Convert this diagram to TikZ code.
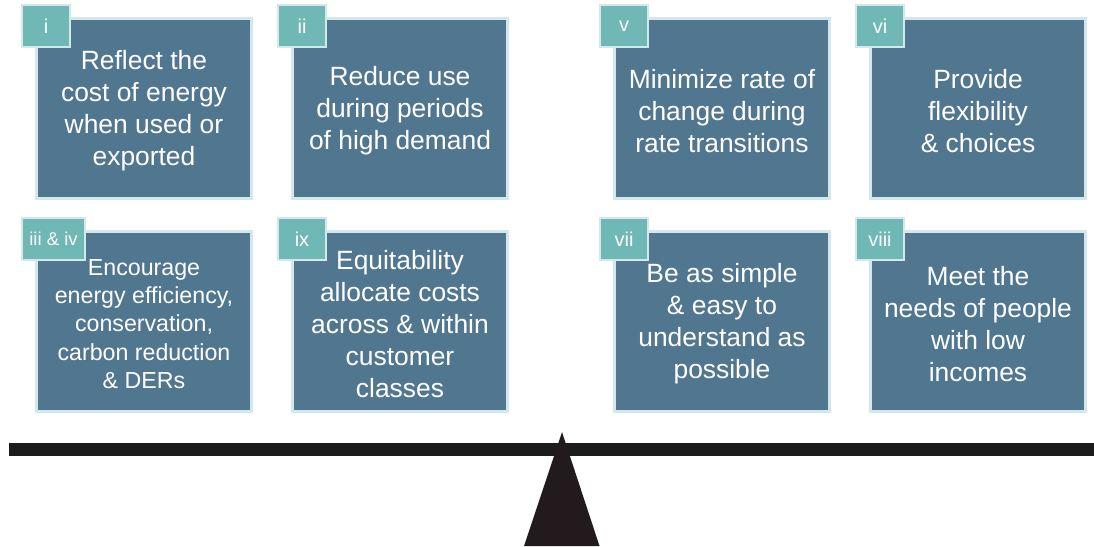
\documentclass[tikz,border=0pt]{standalone}
\usepackage{fontspec}
\setmainfont{Liberation Sans}
\definecolor{boxfill}{HTML}{50778F}
\definecolor{boxedge}{HTML}{D3E8EA}
\definecolor{tagfill}{HTML}{6FB8B6}
\definecolor{beamcol}{HTML}{1C1C1C}
\definecolor{pivotcol}{HTML}{231A1D}
\tikzset{
  bigbox/.style={rectangle, fill=boxfill, draw=boxedge, line width=3pt,
    minimum width=215pt, minimum height=180pt, inner sep=0pt},
  boxtext/.style={align=center, inner sep=0pt, text=white,
    font=\fontsize{26.4}{32}\selectfont},
  tagbox/.style={rectangle, fill=tagfill, draw=boxedge, line width=2pt,
    minimum width=48pt, minimum height=42pt, inner sep=0pt,
    text=white, font=\fontsize{20}{22}\selectfont},
}
\begin{document}
\begin{tikzpicture}[x=1pt,y=-1pt]
\useasboundingbox (0,0) rectangle (1094,546);
% row 1
\node[bigbox] (b1) at (144,108.5) {};
\node[boxtext] (x1) at (144,111) {Reflect the\\cost of energy\\when used or\\exported};
\node[tagbox] (t1) at (46,26) {i};
\node[bigbox] (b2) at (400,108.5) {};
\node[boxtext] (x2) at (400,111) {Reduce use\\during periods\\of high demand};
\node[tagbox] (t2) at (302,26) {ii};
\node[bigbox] (b5) at (722,108.5) {};
\node[boxtext] (x5) at (722,111) {Minimize rate of\\change during\\rate transitions};
\node[tagbox] (t5) at (624,26) {v};
\node[bigbox] (b6) at (978,108.5) {};
\node[boxtext] (x6) at (978,111) {Provide\\flexibility\\\& choices};
\node[tagbox] (t6) at (880,26) {vi};
% row 2
\node[bigbox] (b3) at (144,321.5) {};
\node[boxtext, font=\fontsize{23.2}{28.3}\selectfont] (x3) at (144,324) {Encourage\\energy efficiency,\\conservation,\\carbon reduction\\\& DERs};
\node[tagbox, minimum width=63pt, font=\fontsize{18.5}{20}\selectfont] (t3) at (53.5,239) {iii \& iv};
\node[bigbox] (b9) at (400,321.5) {};
\node[boxtext] (x9) at (400,324) {Equitability\\allocate costs\\across \& within\\customer\\classes};
\node[tagbox] (t9) at (302,239) {ix};
\node[bigbox] (b7) at (722,321.5) {};
\node[boxtext] (x7) at (722,324) {Be as simple\\\& easy to\\understand as\\possible};
\node[tagbox] (t7) at (624,239) {vii};
\node[bigbox] (b8) at (978,321.5) {};
\node[boxtext] (x8) at (978,324) {Meet the\\needs of people\\with low\\incomes};
\node[tagbox] (t8) at (880,239) {viii};
% balance
\fill[beamcol] (9,443) rectangle (1094,455.5);
\fill[pivotcol] (562,432) -- (599.5,546) -- (524,546) -- cycle;
\end{tikzpicture}
\end{document}
